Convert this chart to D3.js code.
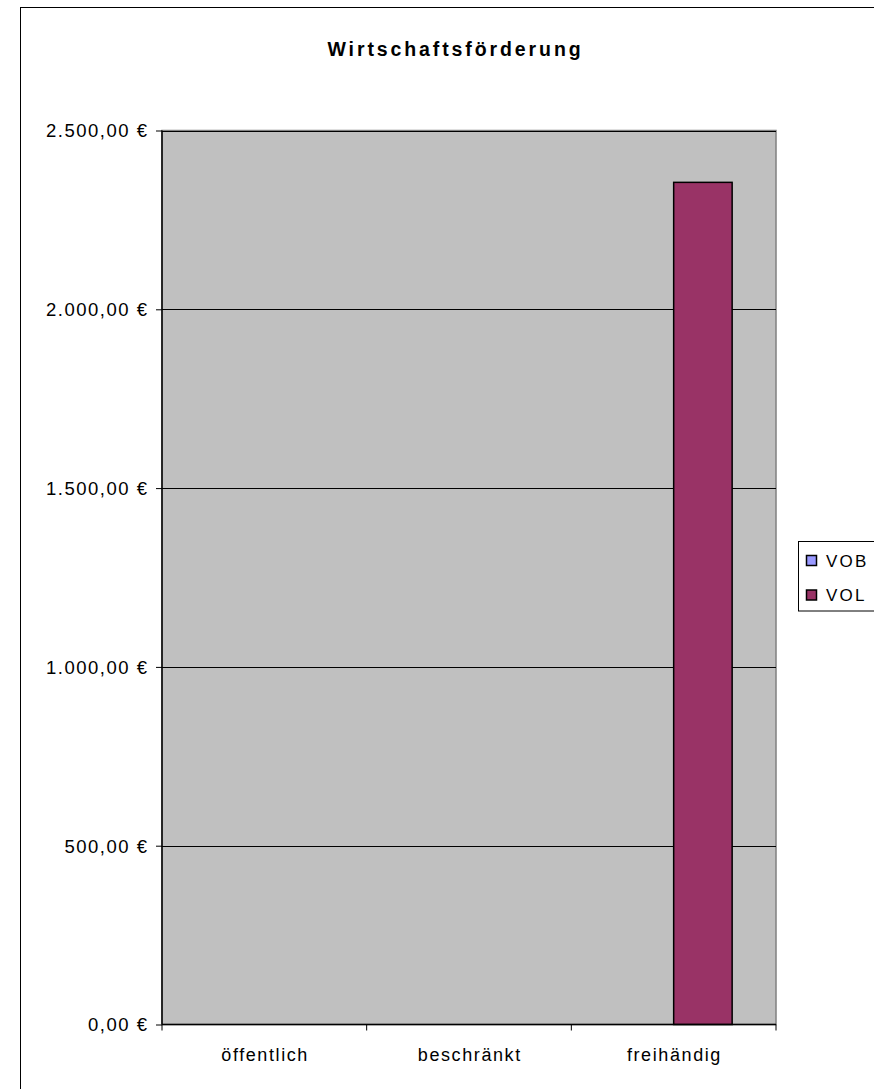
<!DOCTYPE html>
<html>
<head>
<meta charset="utf-8">
<script src="https://cdn.jsdelivr.net/npm/d3@7"></script>
<style>
  html, body { margin: 0; padding: 0; background: #fff; }
  svg { display: block; font-family: "Liberation Sans", Arial, sans-serif; }
</style>
</head>
<body>
<svg id="chart" width="874" height="1089"></svg>
<script>
const title = "Wirtschaftsförderung";
const categories = ["öffentlich", "beschränkt", "freihändig"];
const seriesNames = ["VOB", "VOL"];
const vobValues = [0, 0, 0];
const volValues = [0, 0, 2355];
const yTicks = [0, 500, 1000, 1500, 2000, 2500];
const seriesColors = ["#9999FF", "#993366"];

const svg = d3.select("#chart");

// outer chart border
svg.append("rect").attr("x", 20.5).attr("y", 7.5).attr("width", 900).attr("height", 1200)
  .attr("fill", "#fff").attr("stroke", "#000").attr("stroke-width", 1);

const plot = { left: 162, right: 776, top: 130.5, bottom: 1024.5 };

const x = d3.scaleBand().domain(categories).range([plot.left, plot.right]).paddingInner(0).paddingOuter(0);
const y = d3.scaleLinear().domain([0, 2500]).range([plot.bottom, plot.top]);

// plot area background
svg.append("rect").attr("x", plot.left).attr("y", plot.top)
  .attr("width", plot.right - plot.left).attr("height", plot.bottom - plot.top)
  .attr("fill", "#C0C0C0").attr("stroke", "#808080").attr("stroke-width", 1.5);

// gridlines
svg.append("g").selectAll("line").data(yTicks.filter(d => d > 0)).join("line")
  .attr("x1", plot.left).attr("x2", plot.right)
  .attr("y1", d => Math.round(y(d)) + 0.5).attr("y2", d => Math.round(y(d)) + 0.5)
  .attr("stroke", "#000").attr("stroke-width", 1);

// bars: gap width 150% -> inner group
const groupWidth = x.bandwidth() / (2 + 1.5);
const x1 = d3.scaleBand().domain(seriesNames).range([0, groupWidth * 2]);
const rows = categories.map((c, i) => ({ cat: c, vals: [vobValues[i], volValues[i]] }));

const bars = svg.append("g");
rows.forEach(r => {
  r.vals.forEach((v, si) => {
    if (v <= 0) return;
    const bx = x(r.cat) + groupWidth * 0.75 + x1(seriesNames[si]);
    bars.append("rect")
      .attr("x", bx).attr("y", y(v))
      .attr("width", x1.bandwidth()).attr("height", y(0) - y(v))
      .attr("fill", seriesColors[si]).attr("stroke", "#000").attr("stroke-width", 1.5);
  });
});

// y axis
const yAxis = d3.axisLeft(y).tickValues(yTicks).tickSize(6).tickPadding(7.5)
  .tickFormat(d => d3.format(",.2f")(d).replace(/,/g, "#").replace(".", ",").replace(/#/g, ".") + " €");
const gy = svg.append("g").attr("transform", `translate(${plot.left},0)`).call(yAxis);
gy.attr("font-size", null).attr("font-family", null);
gy.select(".domain").attr("stroke", "#000").attr("stroke-width", 1.5).attr("d", `M0,${plot.top}V${plot.bottom}`);
gy.selectAll(".tick line").attr("stroke", "#000");
gy.selectAll(".tick text").attr("font-size", 18.5).attr("fill", "#000")
  .attr("letter-spacing", 1.5).attr("dy", "0.35em");

// x axis
const gx = svg.append("g").attr("transform", `translate(0,${plot.bottom})`);
gx.append("line").attr("x1", plot.left).attr("x2", plot.right).attr("stroke", "#000").attr("stroke-width", 1.5);
const xTickPos = [plot.left, ...categories.map(c => x(c) + x.bandwidth())];
gx.selectAll("line.tk").data(xTickPos).join("line").attr("class", "tk")
  .attr("x1", d => d).attr("x2", d => d).attr("y1", 0).attr("y2", 6).attr("stroke", "#000");
gx.selectAll("text").data(categories).join("text")
  .attr("x", d => x(d) + x.bandwidth() / 2 + 0.8).attr("y", 36)
  .attr("text-anchor", "middle").attr("font-size", 18).attr("letter-spacing", 1.6)
  .text(d => d);

// title
svg.append("text").attr("x", 455.5).attr("y", 55.5).attr("text-anchor", "middle")
  .attr("font-size", 19.5).attr("font-weight", "bold").attr("letter-spacing", 2.9)
  .text(title);

// legend
const lg = svg.append("g");
lg.append("rect").attr("x", 798.5).attr("y", 541.5).attr("width", 100).attr("height", 69.5)
  .attr("fill", "#fff").attr("stroke", "#000").attr("stroke-width", 1);
seriesNames.forEach((s, i) => {
  const cy = 560.5 + i * 34.5;
  lg.append("rect").attr("x", 806.5).attr("y", cy - 5).attr("width", 10).attr("height", 10)
    .attr("fill", seriesColors[i]).attr("stroke", "#000").attr("stroke-width", 1.5);
  lg.append("text").attr("x", 826).attr("y", cy + 6).attr("font-size", 17)
    .attr("letter-spacing", 2.2).text(s);
});
</script>
</body>
</html>
